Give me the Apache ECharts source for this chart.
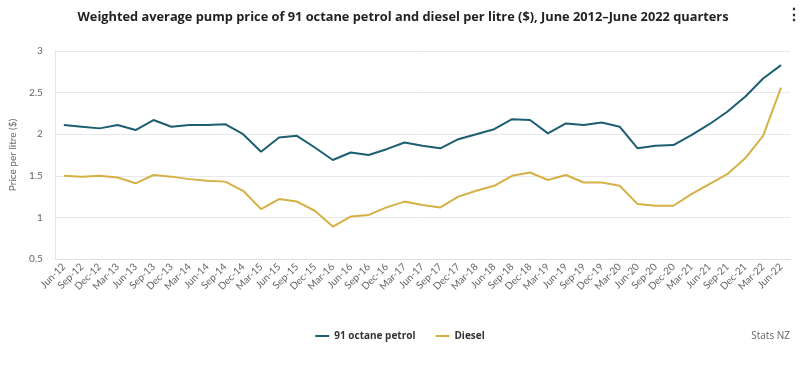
<!DOCTYPE html>
<html>
<head>
<meta charset="utf-8">
<script src="https://cdn.jsdelivr.net/npm/echarts@6/dist/echarts.min.js"></script>
<style>html,body{margin:0;padding:0;background:#fff}#c{width:800px;height:366px}</style>
</head>
<body>
<div id="c"></div>
<script>
const categories = ['Jun-12','Sep-12','Dec-12','Mar-13','Jun-13','Sep-13','Dec-13','Mar-14','Jun-14','Sep-14','Dec-14','Mar-15','Jun-15','Sep-15','Dec-15','Mar-16','Jun-16','Sep-16','Dec-16','Mar-17','Jun-17','Sep-17','Dec-17','Mar-18','Jun-18','Sep-18','Dec-18','Mar-19','Jun-19','Sep-19','Dec-19','Mar-20','Jun-20','Sep-20','Dec-20','Mar-21','Jun-21','Sep-21','Dec-21','Mar-22','Jun-22'];
const petrol = [2.11,2.09,2.07,2.11,2.05,2.17,2.09,2.11,2.11,2.12,2.00,1.79,1.96,1.98,1.84,1.69,1.78,1.75,1.82,1.90,1.86,1.83,1.94,2.00,2.06,2.18,2.17,2.01,2.13,2.11,2.14,2.09,1.83,1.86,1.87,1.99,2.12,2.27,2.45,2.67,2.83];
const diesel = [1.50,1.49,1.50,1.48,1.41,1.51,1.49,1.46,1.44,1.43,1.32,1.10,1.22,1.19,1.08,0.89,1.01,1.03,1.12,1.19,1.15,1.12,1.25,1.32,1.38,1.50,1.54,1.45,1.51,1.42,1.42,1.38,1.16,1.14,1.14,1.28,1.40,1.52,1.71,1.98,2.56];
const yTicks = [0.5,1,1.5,2,2.5,3];
const seriesNames = ['91 octane petrol','Diesel'];
const colors = ['#1d5e73','#d5b145'];
const FONT = '"Open Sans", Lato, sans-serif';
const FONT2 = 'Lato, "Open Sans", sans-serif';

const chart = echarts.init(document.getElementById('c'));
chart.setOption({
  animation: false,
  color: colors,
  title: {
    text: 'Weighted average pump price of 91 octane petrol and diesel per litre ($), June 2012\u2013June 2022 quarters',
    left: 398, top: 6, textAlign: 'center',
    textStyle: {fontFamily: FONT, fontSize: 12.8, fontWeight: 'bold', color: '#222'}
  },
  graphic: [
    {type: 'text', left: 786, top: 7, style: {text: '\u22EE', font: 'bold 16px ' + FONT, fill: '#333'}},
    {type: 'text', right: 10, top: 331, style: {text: 'Stats NZ', font: '10px ' + FONT, fill: '#666'}}
  ],
  legend: {
    data: seriesNames,
    left: 'center', top: 326,
    icon: 'rect', itemWidth: 14, itemHeight: 2, itemGap: 20,
    textStyle: {fontFamily: FONT, fontSize: 10, fontWeight: 'bold', color: '#333'}
  },
  grid: {left: 53, right: 10, top: 51, bottom: 107},
  xAxis: {
    type: 'category', data: categories, boundaryGap: true,
    axisLine: {lineStyle: {color: '#dcdfe6'}},
    axisTick: {alignWithLabel: true, length: 6, lineStyle: {color: '#dcdfe6'}},
    axisLabel: {interval: 0, rotate: 45, fontFamily: FONT2, fontSize: 10, color: '#666', margin: 6}
  },
  yAxis: {
    type: 'value', min: 0.5, max: 3, interval: 0.5,
    name: 'Price per litre ($)', nameLocation: 'middle', nameGap: 30,
    nameTextStyle: {fontFamily: FONT2, fontSize: 10, color: '#666'},
    axisLine: {show: true, lineStyle: {color: '#e3e5ea'}},
    axisTick: {show: false},
    axisLabel: {fontFamily: FONT2, fontSize: 10, color: '#666', margin: 12,
      formatter: v => yTicks.includes(v) ? String(v) : ''},
    splitLine: {lineStyle: {color: '#e8e8ec'}}
  },
  series: [
    {name: seriesNames[0], type: 'line', data: petrol, showSymbol: false, lineStyle: {width: 2}},
    {name: seriesNames[1], type: 'line', data: diesel, showSymbol: false, lineStyle: {width: 2}}
  ]
});
</script>
</body>
</html>
